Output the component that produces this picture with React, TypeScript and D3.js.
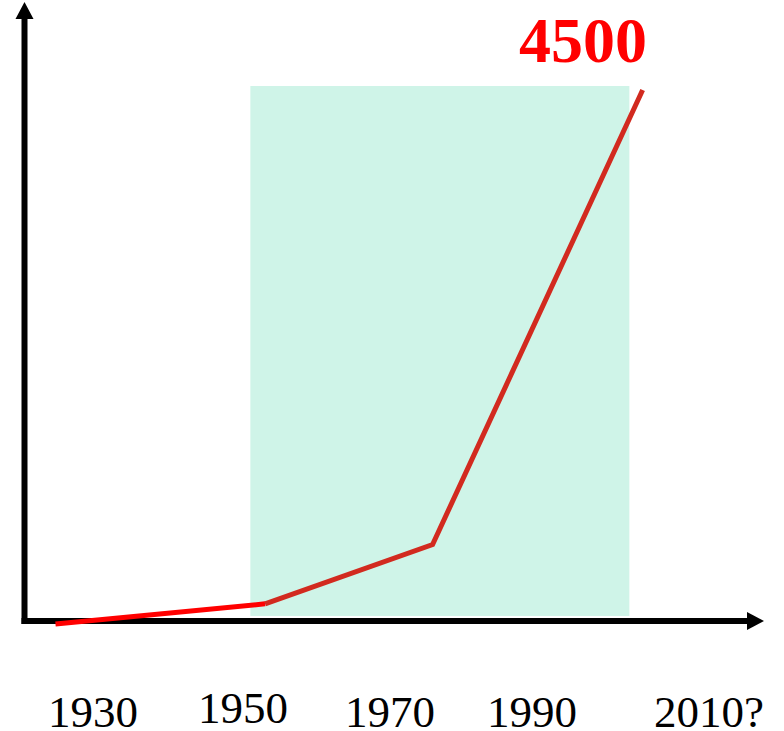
import { useMemo } from 'react';
import * as d3 from 'd3';

// tick labels along the bottom
const tickYears = [1930, 1950, 1970, 1990, 2010];
const tickLabels = ['1930', '1950', '1970', '1990', '2010?'];

// growth curve
const years = [1925, 1953, 1976, 2002.5];
const values = [0, 170, 670, 4500];

// shaded period
const shadeYears = [1951, 2001];

const peakLabel = '4500';

export default function App() {
  const width = 784;
  const height = 731;

  // slide-style axis: labels are not evenly spaced, so use a polylinear scale
  const x = useMemo(
    () => d3.scaleLinear().domain(tickYears).range([93, 243, 390, 532, 709]),
    []
  );
  const y = useMemo(() => d3.scaleLinear().domain([0, 4500]).range([624, 90]), []);

  const line = d3
    .line<number>()
    .x((_, i) => x(years[i]))
    .y((d) => y(d));

  const firstSeg = line(values.slice(0, 2)) || '';
  // rest of the curve, indices shifted by one
  const restSeg =
    d3
      .line<number>()
      .x((_, i) => x(years[i + 1]))
      .y((d) => y(d))(values.slice(1)) || '';

  const axisX = 24.5;
  const axisY = 621;
  const axisTop = 19;
  const axisRight = 747;

  return (
    <svg
      width={width}
      height={height}
      style={{ position: 'absolute', left: 0, top: 0, background: '#fff' }}
    >
      <rect
        x={x(shadeYears[0])}
        y={y(4500) - 4}
        width={x(shadeYears[1]) - x(shadeYears[0])}
        height={616 - (y(4500) - 4)}
        fill="#cff4e8"
      />

      {/* axes */}
      <line x1={axisX} y1={axisY + 3} x2={axisX} y2={axisTop} stroke="#000" strokeWidth={6} />
      <path d={`M${axisX},2 L${axisX - 9},${axisTop} L${axisX + 9},${axisTop} Z`} fill="#000" />
      <line x1={axisX - 3} y1={axisY} x2={axisRight} y2={axisY} stroke="#000" strokeWidth={6} />
      <path d={`M764,${axisY} L${axisRight},${axisY - 9} L${axisRight},${axisY + 9} Z`} fill="#000" />

      {/* curve */}
      <path d={firstSeg} fill="none" stroke="#ff0000" strokeWidth={5} />
      <path d={restSeg} fill="none" stroke="#d22a1f" strokeWidth={5} strokeLinejoin="miter" />

      <text
        x={647}
        y={62}
        textAnchor="end"
        fontFamily="'Liberation Serif', 'Times New Roman', serif"
        fontWeight="bold"
        fontSize={64}
        fill="#ff0000"
      >
        {peakLabel}
      </text>

      {tickYears.map((yr, i) => (
        <text
          key={yr}
          x={x(yr)}
          y={yr === 1950 ? 723 : 727}
          textAnchor="middle"
          fontFamily="'Liberation Serif', 'Times New Roman', serif"
          fontSize={45}
          fill="#000"
        >
          {tickLabels[i]}
        </text>
      ))}
    </svg>
  );
}
